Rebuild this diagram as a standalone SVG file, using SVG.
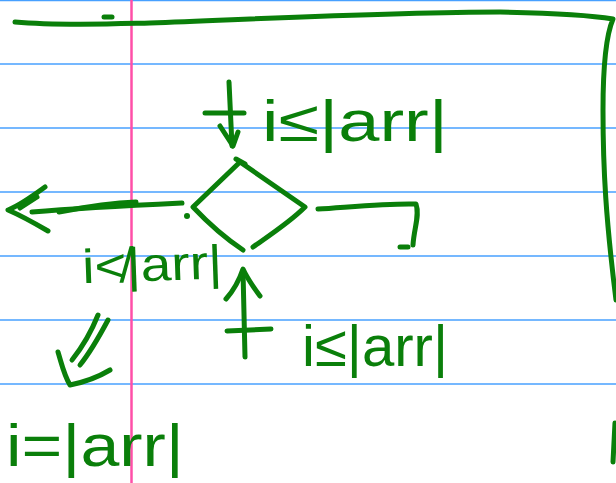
<svg xmlns="http://www.w3.org/2000/svg" width="616" height="483" viewBox="0 0 616 483">
<style>
.rule{stroke:#47a0ff;stroke-width:1.6;fill:none}
.margin{stroke:#ff4fa8;stroke-width:2.5;fill:none}
.ink{stroke:#0a7f0a;stroke-width:5;fill:none;stroke-linecap:round;stroke-linejoin:round}
.txt{fill:#0a7f0a;font-family:"Liberation Sans","DejaVu Sans",sans-serif}
</style>
<rect width="616" height="483" fill="#ffffff"/>
<g id="paper">
<line class="rule" x1="0" y1="0.5" x2="616" y2="0.5"/>
<line class="rule" x1="0" y1="64" x2="616" y2="64"/>
<line class="rule" x1="0" y1="128" x2="616" y2="128"/>
<line class="rule" x1="0" y1="192" x2="616" y2="192"/>
<line class="rule" x1="0" y1="256" x2="616" y2="256"/>
<line class="rule" x1="0" y1="320" x2="616" y2="320"/>
<line class="rule" x1="0" y1="384" x2="616" y2="384"/>
<line class="margin" x1="131.5" y1="0" x2="131.5" y2="483"/>
</g>
<g id="frame">
<path class="ink" d="M15,22 C60,26 110,24 150,23 C280,18 400,12 500,12 C560,13 590,15 613,19 C604,40 603,80 603,110 C603,170 606,220 616,300"/>
<path class="ink" d="M615,423 L613,462"/>
<path class="ink" stroke-width="2" d="M104,17 L112,17"/>
</g>
<g id="decision">
<path class="ink" d="M253,247 C270,235 290,222 305,207 L240,162 L193,207 C210,225 228,240 243,250"/>
<path class="ink" d="M236,159 L245,164"/>
</g>
<g id="connectors">
<g id="arrow-in-top">
<path class="ink" d="M229,82 L232,146"/>
<path class="ink" d="M205,113 L244,113"/>
<path class="ink" d="M220,126 L233,146 L238,132"/>
</g>
<g id="arrow-left">
<path class="ink" d="M182,203 C140,205 80,208 32,212"/>
<path class="ink" d="M136,202 C110,203 80,208 59,212"/>
<path class="ink" d="M45,187 C30,198 18,206 8,210 C22,216 36,224 48,231"/>
<path class="ink" d="M37,197 L20,208"/>
<circle cx="187" cy="216" r="3" fill="#0a7f0a"/>
</g>
<g id="arrow-right">
<path class="ink" d="M318,209 C350,207 390,203 416,204 C420,215 414,228 413,245"/>
<path class="ink" d="M400,247 L408,247"/>
</g>
<g id="arrow-in-bottom">
<path class="ink" d="M243,271 L245,357"/>
<path class="ink" d="M226,299 C234,290 240,278 243,269 C248,280 254,288 260,296"/>
<path class="ink" d="M227,331 L271,329"/>
</g>
<g id="arrow-down-left">
<path class="ink" d="M108,320 C100,335 92,350 80,365"/>
<path class="ink" d="M98,315 C92,330 84,345 72,360"/>
<path class="ink" d="M58,352 C62,365 64,375 70,385 C85,382 100,376 110,370"/>
</g>
</g>
<g id="labels">
<text class="txt" x="262" y="141" font-size="58" textLength="186" lengthAdjust="spacingAndGlyphs">i≤|arr|</text>
<text class="txt" x="82" y="281" font-size="48" textLength="140" lengthAdjust="spacingAndGlyphs" transform="rotate(-2 150 260)">i≮|arr|</text>
<text class="txt" x="302" y="366" font-size="58" textLength="146" lengthAdjust="spacingAndGlyphs">i≤|arr|</text>
<text class="txt" x="6" y="466" font-size="60" textLength="178" lengthAdjust="spacingAndGlyphs">i=|arr|</text>
</g>
</svg>
